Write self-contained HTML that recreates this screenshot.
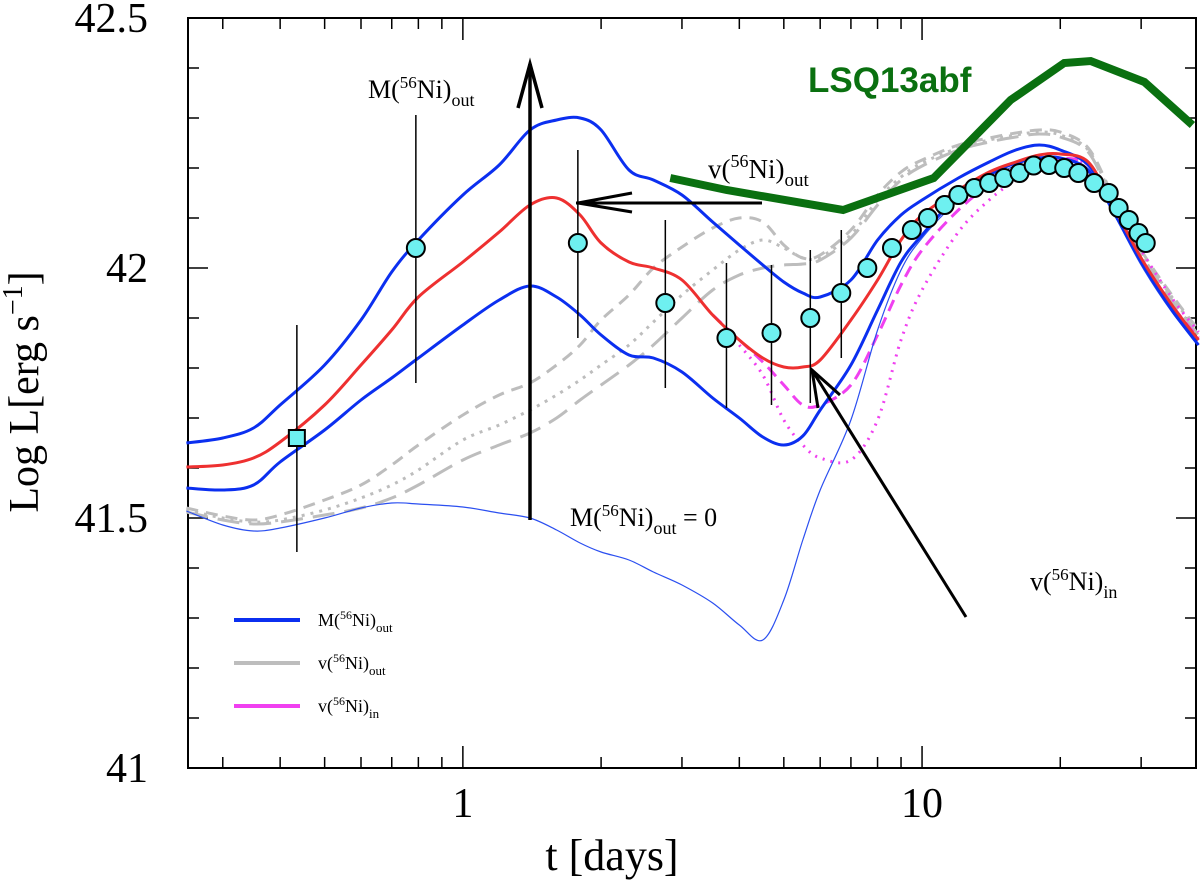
<!DOCTYPE html>
<html><head><meta charset="utf-8"><style>
html,body{margin:0;padding:0;background:#fff;}
svg{display:block;}
text{font-family:"Liberation Serif",serif;}
</style></head><body>
<svg id="chart" width="1200" height="887" viewBox="0 0 1200 887" xmlns="http://www.w3.org/2000/svg">
<g id="axes"></g>
<g id="series"></g>
<g id="annot">
  <line x1="530" y1="520" x2="530" y2="64" stroke="#000" stroke-width="3.5"/>
  <polyline points="518,108 530,64 542,108" fill="none" stroke="#000" stroke-width="3.5"/>
  <text x="368" y="98" font-size="26">M(<tspan font-size="17" dy="-10">56</tspan><tspan dy="10">Ni)</tspan><tspan font-size="18" dy="8">out</tspan></text>
  <line x1="762" y1="203" x2="576" y2="203" stroke="#000" stroke-width="3"/>
  <polyline points="632,193 578,203 632,212" fill="none" stroke="#000" stroke-width="3"/>
  <text x="708" y="178" font-size="27">v(<tspan font-size="18" dy="-11">56</tspan><tspan dy="11">Ni)</tspan><tspan font-size="19" dy="8">out</tspan></text>
  <line x1="966" y1="617" x2="812" y2="370" stroke="#000" stroke-width="3"/>
  <polyline points="818,408 812,370 840,395" fill="none" stroke="#000" stroke-width="3"/>
  <text x="1030" y="590" font-size="26">v(<tspan font-size="17" dy="-10">56</tspan><tspan dy="10">Ni)</tspan><tspan font-size="18" dy="8">in</tspan></text>
  <text x="570" y="526" font-size="26">M(<tspan font-size="17" dy="-10">56</tspan><tspan dy="10">Ni)</tspan><tspan font-size="18" dy="8">out</tspan><tspan dy="-8">  =  0</tspan></text>
  <text x="808" y="92" font-size="35" font-weight="bold" fill="#0a7010" style="font-family:'Liberation Sans',sans-serif">LSQ13abf</text>
</g>
<g id="legend">
  <line x1="234" y1="620" x2="300" y2="620" stroke="#0b2ff0" stroke-width="4"/>
  <text x="318" y="626" font-size="18">M(<tspan font-size="12" dy="-7">56</tspan><tspan dy="7">Ni)</tspan><tspan font-size="13" dy="6">out</tspan></text>
  <line x1="234" y1="663" x2="300" y2="663" stroke="#bdbdbd" stroke-width="4"/>
  <text x="318" y="669" font-size="18">v(<tspan font-size="12" dy="-7">56</tspan><tspan dy="7">Ni)</tspan><tspan font-size="13" dy="6">out</tspan></text>
  <line x1="234" y1="706" x2="300" y2="706" stroke="#f040f0" stroke-width="4"/>
  <text x="318" y="712" font-size="18">v(<tspan font-size="12" dy="-7">56</tspan><tspan dy="7">Ni)</tspan><tspan font-size="13" dy="6">in</tspan></text>
</g>
</svg>
<script>
// ---- data ----
const days = [0.25,0.3,0.35,0.4,0.5,0.6,0.7,0.8,1,1.2,1.4,1.6,1.8,2,2.3,2.6,3,3.5,4,4.5,5,5.5,6,7,8,9,10,12,14,16,18,20,23,26,30,35,40];
const massHigh = [41.650,41.660,41.680,41.726,41.806,41.896,41.992,42.056,42.146,42.206,42.276,42.296,42.300,42.276,42.196,42.176,42.146,42.092,42.046,42.006,41.972,41.950,41.942,41.976,42.056,42.106,42.136,42.180,42.212,42.236,42.246,42.236,42.206,42.126,42.016,41.920,41.856];
const reference = [41.602,41.606,41.620,41.652,41.726,41.806,41.876,41.942,42.012,42.072,42.126,42.140,42.106,42.050,42.012,42.000,41.976,41.906,41.856,41.820,41.802,41.802,41.816,41.896,41.976,42.056,42.106,42.156,42.192,42.212,42.226,42.228,42.212,42.126,42.020,41.926,41.856];
const massLow = [41.560,41.556,41.566,41.612,41.676,41.736,41.780,41.820,41.886,41.936,41.964,41.942,41.906,41.866,41.826,41.820,41.792,41.740,41.700,41.662,41.646,41.664,41.716,41.806,41.916,42.012,42.066,42.146,42.186,42.210,42.220,42.220,42.196,42.116,42.012,41.916,41.846];
const massZero = [41.514,41.486,41.474,41.480,41.500,41.520,41.530,41.528,41.522,41.510,41.500,41.476,41.450,41.432,41.416,41.392,41.366,41.330,41.286,41.256,41.336,41.456,41.556,41.696,41.876,41.996,42.060,42.136,42.176,42.206,42.220,42.220,42.192,42.112,42.006,41.912,41.846];
const velOutA = [41.520,41.504,41.496,41.506,41.536,41.566,41.606,41.646,41.706,41.746,41.770,41.806,41.846,41.896,41.946,42.000,42.042,42.080,42.100,42.092,42.046,42.020,42.026,42.076,42.146,42.192,42.216,42.246,42.260,42.270,42.276,42.272,42.240,42.146,42.036,41.946,41.876];
const velOutB = [41.516,41.500,41.492,41.496,41.516,41.540,41.566,41.596,41.656,41.686,41.716,41.746,41.776,41.806,41.846,41.892,41.946,41.996,42.036,42.056,42.040,42.020,42.022,42.066,42.136,42.182,42.210,42.240,42.256,42.266,42.272,42.266,42.236,42.140,42.032,41.942,41.872];
const velOutC = [41.512,41.496,41.488,41.492,41.506,41.520,41.540,41.566,41.616,41.646,41.670,41.700,41.736,41.766,41.806,41.846,41.900,41.956,41.986,42.000,42.006,42.008,42.016,42.060,42.126,42.176,42.204,42.236,42.252,42.262,42.268,42.262,42.232,42.136,42.028,41.936,41.866];
const velInA = [null,null,null,null,null,null,null,null,null,null,null,null,null,null,null,null,null,41.906,41.856,41.812,41.766,41.726,41.726,41.766,41.866,41.966,42.036,42.116,42.166,42.196,42.216,42.220,42.206,42.126,42.020,41.926,41.860];
const velInB = [null,null,null,null,null,null,null,null,null,null,null,null,null,null,null,null,null,null,41.846,41.786,41.696,41.646,41.620,41.616,41.696,41.856,41.956,42.072,42.136,42.176,42.206,42.216,42.206,42.136,42.036,41.940,41.872];
const lsqDays = [2.83,3.75,6.73,10.6,15.6,20.4,23.3,30.5,38.8];
const lsqLum = [42.18,42.156,42.116,42.18,42.336,42.41,42.414,42.372,42.286];
const obsDays = [0.435,0.79,1.78,2.76,3.75,4.7,5.71,6.67,7.6,8.6,9.5,10.3,11.2,12.0,13.0,14.0,15.1,16.3,17.5,18.9,20.4,21.9,23.7,25.5,26.8,28.2,29.6,30.7];
const obsLum = [41.66,42.04,42.05,41.93,41.86,41.87,41.90,41.95,42.0,42.04,42.076,42.10,42.126,42.146,42.16,42.17,42.18,42.19,42.205,42.206,42.20,42.19,42.17,42.15,42.12,42.096,42.07,42.05];
const obsErrHi = [41.886,42.306,42.236,42.096,42.01,42.006,42.036,42.076];
const obsErrLo = [41.432,41.77,41.86,41.76,41.72,41.726,41.73,41.82];
const yTickLabels = ["41","41.5","42","42.5"];
const yTickValues = [41,41.5,42,42.5];
const xTickLabels = ["1","10"];
const xTickValues = [1,10];

// ---- axes ----
const L=188,R=1196,T=18,B=768;
const XMIN=Math.log10(0.252), XMAX=Math.log10(39.5);
const Y0=41, Y1=42.5;
const xs=t=>L+(Math.log10(t)-XMIN)/(XMAX-XMIN)*(R-L);
const ys=v=>B-(v-Y0)/(Y1-Y0)*(B-T);
const NS="http://www.w3.org/2000/svg";
function mk(tag,attrs,parent){const e=document.createElementNS(NS,tag);for(const k in attrs)e.setAttribute(k,attrs[k]);parent.appendChild(e);return e;}
const axes=document.getElementById('axes');
const frame=mk('rect',{x:L,y:T,width:R-L,height:B-T,fill:'none',stroke:'#000','stroke-width':2},axes);


for(let i=0;i<=15;i++){
  const v=41+i*0.1, y=ys(v), len=(i%5===0)?20:11;
  const a=mk('line',{x1:L,x2:L+len,y1:y,y2:y,stroke:'#000','stroke-width':1.5},axes);
  
  
  const b=mk('line',{x1:R,x2:R-len,y1:y,y2:y,stroke:'#000','stroke-width':1.5},axes);
  
  
}
yTickLabels.forEach((s,i)=>{
  const t=mk('text',{x:148,y:ys(yTickValues[i])+14,'text-anchor':'end','font-size':42},axes);
  t.textContent=s;
  
  
});
const minorX=[0.3,0.4,0.5,0.6,0.7,0.8,0.9,1,2,3,4,5,6,7,8,9,10,20,30];
minorX.forEach(v=>{
  const x=xs(v), len=(v===1||v===10)?22:11;
  const a=mk('line',{x1:x,x2:x,y1:B,y2:B-len,stroke:'#000','stroke-width':1.5},axes);
  
  
  const b=mk('line',{x1:x,x2:x,y1:T,y2:T+len,stroke:'#000','stroke-width':1.5},axes);
  
  
});
xTickLabels.forEach((s,i)=>{
  const t=mk('text',{x:xs(xTickValues[i]),y:817,'text-anchor':'middle','font-size':42},axes);
  t.textContent=s;
  
  
});
const xt=mk('text',{x:612,y:870,'text-anchor':'middle','font-size':44},axes);
xt.textContent='t [days]';


const yt=mk('text',{x:0,y:0,'text-anchor':'middle','font-size':42,transform:'translate(38,392) rotate(-90)'},axes);
yt.innerHTML='Log L[erg s<tspan font-size="28" dy="-16">−1</tspan><tspan dy="16">]</tspan>';



// ---- series ----
const sg=document.getElementById('series');
function pathFrom(tArr,vArr){
  const pts=[];for(let i=0;i<tArr.length;i++){if(vArr[i]!==null&&vArr[i]!==undefined)pts.push([xs(tArr[i]),ys(vArr[i])]);}
  let d='M'+pts[0][0].toFixed(1)+','+pts[0][1].toFixed(1);
  for(let i=0;i<pts.length-1;i++){
    const p0=pts[Math.max(0,i-1)],p1=pts[i],p2=pts[i+1],p3=pts[Math.min(pts.length-1,i+2)];
    const c1=[p1[0]+(p2[0]-p0[0])/6,p1[1]+(p2[1]-p0[1])/6];
    const c2=[p2[0]-(p3[0]-p1[0])/6,p2[1]-(p3[1]-p1[1])/6];
    d+=' C'+c1[0].toFixed(1)+','+c1[1].toFixed(1)+' '+c2[0].toFixed(1)+','+c2[1].toFixed(1)+' '+p2[0].toFixed(1)+','+p2[1].toFixed(1);
  }
  return d;
}
function curve(vals,stroke,w,dash){
  const p=mk('path',{d:pathFrom(days,vals),fill:'none',stroke:stroke,'stroke-width':w,'stroke-linejoin':'round'},sg);
  if(dash)p.setAttribute('stroke-dasharray',dash);
  return p;
}
let e;
e=curve(velOutC,'#bdbdbd',3,'22 10');


e=curve(velOutB,'#bdbdbd',3,'3 6');


e=curve(velOutA,'#bdbdbd',3,'12 8');


e=curve(velInB,'#f040f0',3,'2 6');


e=curve(velInA,'#f040f0',3,'12 7');


e=curve(massZero,'#2b4ff0',1.2,null);


e=curve(massHigh,'#0b2ff0',3,null);


e=curve(massLow,'#0b2ff0',3,null);


e=curve(reference,'#ee3030',3,null);



// green observed comparison
const gpts=lsqDays.map((t,i)=>xs(t).toFixed(1)+','+ys(lsqLum[i]).toFixed(1)).join(' ');
e=mk('polyline',{points:gpts,fill:'none',stroke:'#0a7010','stroke-width':8,'stroke-linejoin':'miter'},sg);



// error bars
obsErrHi.forEach((hi,i)=>{
  const x=xs(obsDays[i]);
  const l=mk('line',{x1:x,x2:x,y1:ys(hi),y2:ys(obsErrLo[i]),stroke:'#000','stroke-width':1.5},sg);
  
  
});
// markers
obsDays.forEach((t,i)=>{
  const x=xs(t),y=ys(obsLum[i]);
  let m;
  if(i===0){
    m=mk('rect',{x:x-8,y:y-8,width:16,height:16,fill:'#6ef0f0',stroke:'#000','stroke-width':2},sg);
  }else{
    m=mk('circle',{cx:x,cy:y,r:9,fill:'#6ef0f0',stroke:'#000','stroke-width':2},sg);
  }
  
  
});
</script>
</body></html>
